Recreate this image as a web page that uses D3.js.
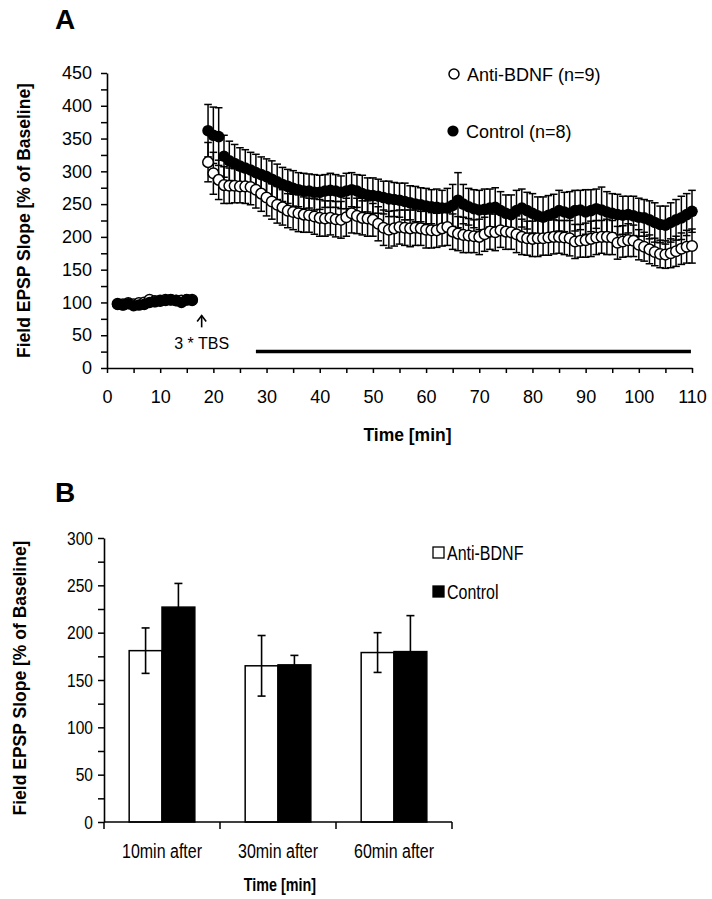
<!DOCTYPE html>
<html><head><meta charset="utf-8">
<script src="https://cdn.jsdelivr.net/npm/d3@7"></script>
<style>
html,body{margin:0;padding:0;background:#fff;}
svg{display:block;}
text{font-family:"Liberation Sans",Arial,sans-serif;fill:#000;}
</style></head>
<body>
<svg id="c" width="712" height="899"></svg>
<script>
// ---------------- Panel A data ----------------
const timeA = [2,3,4,5,6,7,8,9,10,11,12,13,14,15,16,
 19,20,21,22,23,24,25,26,27,28,29,30,31,32,33,34,35,36,37,38,39,40,41,42,43,44,45,46,47,48,49,50,
 51,52,53,54,55,56,57,58,59,60,61,62,63,64,65,66,67,68,69,70,71,72,73,74,75,76,77,78,79,80,
 81,82,83,84,85,86,87,88,89,90,91,92,93,94,95,96,97,98,99,100,101,102,103,104,105,106,107,108,109,110];
const controlA = [97,96,98,95,96,97,100,101,102,103,104,103,100,104,103,
 362,355,353,323,316,312,308,305,302,298,295,292,288,284,280,277,274,272,270,270,268,268,270,271,270,268,270,272,270,266,264,263,
 262,260,258,257,256,254,252,250,249,247,246,245,244,244,248,256,250,246,243,241,242,244,245,240,236,234,240,244,240,236,
 232,230,233,236,240,238,236,240,241,238,240,243,241,238,236,234,233,234,232,230,229,226,222,219,218,222,226,229,234,239];
const controlErrA = [4,4,4,4,4,4,4,4,4,4,4,4,4,4,4,
 40,43,44,32,30,29,28,28,27,28,27,27,28,27,26,26,27,26,27,26,27,26,25,26,25,25,27,26,25,28,26,27,
 26,25,27,26,26,28,26,27,26,27,26,28,27,30,32,42,30,28,29,30,31,29,30,29,28,30,31,29,28,30,
 29,31,30,29,31,30,33,31,30,34,32,30,35,31,30,31,29,28,30,29,28,29,30,28,29,30,31,33,32,32];
const antiA = [98,97,99,97,99,100,104,102,103,104,104,103,103,104,104,
 314,297,287,279,278,278,277,277,276,272,266,260,254,249,245,240,238,236,234,233,231,229,228,229,227,226,230,236,232,229,228,226,
 220,214,211,213,215,214,213,214,213,211,210,210,213,215,208,205,203,202,201,200,204,208,207,210,208,207,204,200,198,197,
 198,198,199,200,200,199,198,193,194,195,197,199,200,200,199,191,193,195,194,188,185,181,177,174,173,175,178,182,185,186];
const antiErrA = [4,4,4,4,4,4,4,4,4,4,4,4,4,4,4,
 30,32,30,28,27,26,25,26,27,28,27,28,27,28,27,26,27,28,27,26,27,28,27,26,27,28,29,30,27,26,27,25,
 26,27,28,27,26,27,28,27,26,28,27,26,27,28,27,26,27,26,25,27,26,27,28,26,27,26,28,27,26,27,
 28,26,27,26,25,26,27,26,25,26,27,26,25,27,26,25,24,25,24,23,22,22,21,21,21,22,23,24,25,26];
const yTicksA = [0,50,100,150,200,250,300,350,400,450];
const xTicksA = [0,10,20,30,40,50,60,70,80,90,100,110];
const drugBar = [28,109.8];   // horizontal bar (time span), drawn at level 25
const drugLevel = 25;

// ---------------- Panel B data ----------------
const categoriesB = ["10min after","30min after","60min after"];
const antiB = [181,165,179];
const antiErrB = [24,32,21];
const controlB = [227,166,180];
const controlErrB = [25,10,38];
const yTicksB = [0,50,100,150,200,250,300];

const svg = d3.select("#c");
const NARROW = 0.82;
// condensed text (emulates Arial Narrow)
function narrowText(parent, x, y, str, size, anchor, bold){
  const t = parent.append("text")
    .attr("transform",`translate(${x},${y}) scale(${NARROW},1)`)
    .attr("font-size",size).attr("text-anchor",anchor||"start").text(str);
  if(bold) t.attr("font-weight","bold");
  return t;
}

// ================= Panel A =================
const A = {l:107, r:692, t:73, b:368};
const xA = d3.scaleLinear().domain([0,110]).range([A.l,A.r]);
const yA = d3.scaleLinear().domain([0,450]).range([A.b,A.t]);

svg.append("text").attr("x",55).attr("y",29).attr("font-size",28).attr("font-weight","bold").text("A");

const minorYA = [25,75,125,175,225,275,325,375,425];
const minorXA = [5,15,25,35,45,55,65,75,85,95,105];
const gA = svg.append("g");
gA.append("g").attr("transform",`translate(${A.l},0)`)
  .call(d3.axisLeft(yA).tickValues(minorYA).tickSize(6).tickFormat("").tickSizeOuter(0))
  .call(g=>g.select(".domain").remove()).selectAll("line").attr("stroke-width",1.5);
gA.append("g").attr("transform",`translate(0,${A.b})`)
  .call(d3.axisBottom(xA).tickValues(minorXA).tickSize(5).tickFormat("").tickSizeOuter(0))
  .call(g=>g.select(".domain").remove()).selectAll("line").attr("stroke-width",1.5);
const yAxA = gA.append("g").attr("transform",`translate(${A.l},0)`)
  .call(d3.axisLeft(yA).tickValues(yTicksA).tickSize(6).tickPadding(9).tickSizeOuter(0));
const xAxA = gA.append("g").attr("transform",`translate(0,${A.b})`)
  .call(d3.axisBottom(xA).tickValues(xTicksA).tickSize(5).tickPadding(17).tickSizeOuter(0));
[yAxA,xAxA].forEach(g=>{
  g.select(".domain").attr("stroke-width",1.6);
  g.selectAll("line").attr("stroke-width",1.5);
  g.selectAll("text").attr("font-size",18).attr("font-family","Liberation Sans, Arial, sans-serif").attr("fill","#000");
});

svg.append("text").attr("transform",`translate(30,${(A.t+A.b)/2}) rotate(-90)`)
  .attr("text-anchor","middle").attr("font-size",17.5).attr("font-weight","bold")
  .text("Field EPSP Slope [% of Baseline]");
svg.append("text").attr("x",(A.l+A.r)/2+8).attr("y",441).attr("text-anchor","middle")
  .attr("font-size",17.5).attr("font-weight","bold").text("Time [min]");

svg.append("line").attr("x1",xA(drugBar[0])).attr("x2",xA(drugBar[1]))
  .attr("y1",yA(drugLevel)).attr("y2",yA(drugLevel)).attr("stroke","#000").attr("stroke-width",3.5);

const arrowX = xA(17.8);
svg.append("line").attr("x1",arrowX).attr("x2",arrowX).attr("y1",yA(80)).attr("y2",yA(62)).attr("stroke","#000").attr("stroke-width",1.6);
svg.append("path").attr("d",`M${arrowX-4.5},${yA(80)+6} L${arrowX},${yA(80)} L${arrowX+4.5},${yA(80)+6}`)
  .attr("fill","none").attr("stroke","#000").attr("stroke-width",1.6);
svg.append("text").attr("x",arrowX).attr("y",349).attr("text-anchor","middle").attr("font-size",16).text("3 * TBS");

const cap = 3.8;
function errBars(vals, errs){
  const g = svg.append("g").attr("stroke","#000").attr("stroke-width",1.5).attr("fill","none");
  timeA.forEach((t,i)=>{
    const x = xA(t), y1 = yA(vals[i]+errs[i]), y2 = yA(vals[i]-errs[i]);
    g.append("line").attr("x1",x).attr("x2",x).attr("y1",y1).attr("y2",y2);
    g.append("line").attr("x1",x-cap).attr("x2",x+cap).attr("y1",y1).attr("y2",y1);
    g.append("line").attr("x1",x-cap).attr("x2",x+cap).attr("y1",y2).attr("y2",y2);
  });
}
errBars(antiA, antiErrA);
errBars(controlA, controlErrA);
svg.append("g").selectAll("circle").data(timeA).join("circle")
  .attr("cx",d=>xA(d)).attr("cy",(d,i)=>yA(antiA[i])).attr("r",5.3)
  .attr("fill","#fff").attr("stroke","#000").attr("stroke-width",1.5);
svg.append("g").selectAll("circle").data(timeA).join("circle")
  .attr("cx",d=>xA(d)).attr("cy",(d,i)=>yA(controlA[i])).attr("r",5.8)
  .attr("fill","#000");

svg.append("circle").attr("cx",454).attr("cy",74).attr("r",5).attr("fill","#fff").attr("stroke","#000").attr("stroke-width",1.5);
svg.append("text").attr("x",467).attr("y",80.5).attr("font-size",18).text("Anti-BDNF (n=9)");
svg.append("circle").attr("cx",453).attr("cy",131).attr("r",5.6).attr("fill","#000");
svg.append("text").attr("x",466).attr("y",137.5).attr("font-size",18).text("Control (n=8)");

// ================= Panel B =================
const B = {l:104, r:452, t:538, b:822};
svg.append("text").attr("x",55).attr("y",502).attr("font-size",28).attr("font-weight","bold").text("B");
const xB = d3.scaleBand().domain(categoriesB).range([B.l,B.r]);
const yB = d3.scaleLinear().domain([0,300]).range([B.b,B.t]);
const barW = xB.bandwidth()*0.283;

const gB = svg.append("g");
gB.append("g").attr("transform",`translate(${B.l},0)`)
  .call(d3.axisLeft(yB).tickValues([25,75,125,175,225,275]).tickSize(6).tickFormat("").tickSizeOuter(0))
  .call(g=>g.select(".domain").remove()).selectAll("line").attr("stroke-width",1.5);
const yAxB = gB.append("g").attr("transform",`translate(${B.l},0)`)
  .call(d3.axisLeft(yB).tickValues(yTicksB).tickSize(6).tickFormat("").tickSizeOuter(0));
yAxB.select(".domain").attr("stroke-width",1.6);
yAxB.selectAll("line").attr("stroke-width",1.5);
// y tick labels B (condensed), placed with the scale
yTicksB.forEach(v=>{
  narrowText(svg, B.l-11, yB(v)+6.5, String(v), 19, "end");
});

categoriesB.forEach((c,i)=>{
  const cx = xB(c)+xB.bandwidth()/2;
  svg.append("rect").attr("x",cx-barW).attr("y",yB(antiB[i])).attr("width",barW).attr("height",yB(0)-yB(antiB[i]))
    .attr("fill","#fff").attr("stroke","#000").attr("stroke-width",1.5);
  svg.append("rect").attr("x",cx).attr("y",yB(controlB[i])).attr("width",barW).attr("height",yB(0)-yB(controlB[i]))
    .attr("fill","#000").attr("stroke","#000").attr("stroke-width",1.5);
  const eg = svg.append("g").attr("stroke","#000").attr("stroke-width",1.6);
  [[cx-barW/2, antiB[i], antiErrB[i]],[cx+barW/2, controlB[i], controlErrB[i]]].forEach(([x,v,e])=>{
    eg.append("line").attr("x1",x).attr("x2",x).attr("y1",yB(v+e)).attr("y2",yB(v-e));
    eg.append("line").attr("x1",x-4).attr("x2",x+4).attr("y1",yB(v+e)).attr("y2",yB(v+e));
    eg.append("line").attr("x1",x-4).attr("x2",x+4).attr("y1",yB(v-e)).attr("y2",yB(v-e));
  });
});

svg.append("line").attr("x1",B.l).attr("x2",B.r).attr("y1",B.b).attr("y2",B.b).attr("stroke","#000").attr("stroke-width",1.6);
const bounds = categoriesB.map(c=>xB(c)).concat([B.r]);
svg.append("g").selectAll("line").data(bounds).join("line")
  .attr("x1",d=>d).attr("x2",d=>d).attr("y1",B.b).attr("y2",B.b+7).attr("stroke","#000").attr("stroke-width",1.5);
categoriesB.forEach(c=>{
  narrowText(svg, xB(c)+xB.bandwidth()/2, 858, c, 19.5, "middle");
});
narrowText(svg, (B.l+B.r)/2+2, 891, "Time [min]", 17.5, "middle", true);
svg.append("text").attr("transform",`translate(26,${(B.t+B.b)/2-2}) rotate(-90)`)
  .attr("text-anchor","middle").attr("font-size",17.5).attr("font-weight","bold")
  .text("Field EPSP Slope [% of Baseline]");

// legend B
svg.append("rect").attr("x",433).attr("y",547).attr("width",11).attr("height",11).attr("fill","#fff").attr("stroke","#000").attr("stroke-width",1.3);
narrowText(svg, 447, 559.5, "Anti-BDNF", 19.5, "start");
svg.append("rect").attr("x",433).attr("y",586).attr("width",11).attr("height",11).attr("fill","#000").attr("stroke","#000").attr("stroke-width",1.3);
narrowText(svg, 447, 598.5, "Control", 19.5, "start");
</script>
</body></html>
